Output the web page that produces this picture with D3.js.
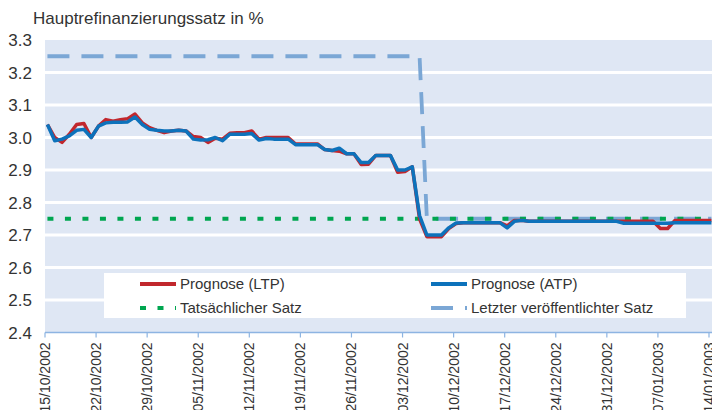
<!DOCTYPE html>
<html><head><meta charset="utf-8">
<script src="https://cdn.jsdelivr.net/npm/d3@7"></script>
<style>body{margin:0;background:#fff;}svg{display:block;font-family:"Liberation Sans",Arial,sans-serif;}</style>
</head><body>
<svg id="c" width="712" height="410"></svg>
<script>
const startDate = "2002-10-15";
const tickDates = ["2002-10-15","2002-10-22","2002-10-29","2002-11-05","2002-11-12","2002-11-19","2002-11-26","2002-12-03","2002-12-10","2002-12-17","2002-12-24","2002-12-31","2003-01-07","2003-01-14"];
const yTicks = [2.4,2.5,2.6,2.7,2.8,2.9,3.0,3.1,3.2,3.3];
const ltp = [3.04,3.00,2.985,3.01,3.04,3.043,3.00,3.035,3.055,3.05,3.055,3.058,3.072,3.045,3.03,3.022,3.015,3.02,3.022,3.02,
 3.003,3.0,2.985,2.998,2.995,3.013,3.015,3.015,3.02,2.995,3.0,3.0,3.0,3.0,2.98,2.98,2.98,2.98,2.963,2.96,
 2.958,2.95,2.95,2.917,2.918,2.945,2.945,2.945,2.893,2.895,2.91,2.75,2.695,2.695,2.695,2.72,2.735,2.738,2.738,2.738,
 2.738,2.738,2.738,2.728,2.745,2.745,2.742,2.742,2.742,2.742,2.742,2.742,2.742,2.742,2.742,2.742,2.742,2.742,2.742,2.742,
 2.742,2.742,2.742,2.742,2.72,2.72,2.745,2.745,2.745,2.745,2.745,2.745];
const atp = [3.04,2.99,2.995,3.005,3.022,3.025,3.0,3.035,3.045,3.047,3.047,3.048,3.063,3.04,3.025,3.022,3.02,3.02,3.022,3.02,
 2.995,2.992,2.993,3.0,2.99,3.01,3.01,3.01,3.012,2.992,2.997,2.995,2.995,2.995,2.978,2.978,2.978,2.978,2.963,2.96,
 2.967,2.95,2.95,2.923,2.923,2.945,2.945,2.945,2.9,2.9,2.91,2.76,2.7,2.7,2.7,2.722,2.737,2.738,2.738,2.738,
 2.738,2.738,2.738,2.722,2.742,2.745,2.742,2.742,2.742,2.742,2.742,2.742,2.742,2.742,2.742,2.742,2.742,2.742,2.742,2.736,
 2.736,2.736,2.736,2.736,2.736,2.736,2.738,2.738,2.738,2.738,2.738,2.738];
const actualRate = 2.75;
const lastPublished = ltp.map((d,i)=> i<=51 ? 3.25 : 2.75);
const seriesNames = ["Prognose (LTP)","Prognose (ATP)","Tatsächlicher Satz","Letzter veröffentlichter Satz"];
const title = "Hauptrefinanzierungssatz in %";

const parse = d3.utcParse("%Y-%m-%d");
const fmt = d3.utcFormat("%d/%m/%Y");
const day = 86400000;
const t0 = parse(startDate);
const dates = ltp.map((d,i)=> new Date(t0.getTime() + i*day + 8*3600000));

const L=45, R=712, T=40, B=332.5;
const svg = d3.select("#c");
const x = d3.scaleUtc().domain([t0, new Date(parse("2003-01-14").getTime()+0.4*day)]).range([L, 709+0.4*7.297]);
const y = d3.scaleLinear().domain([2.4,3.3]).range([B,T]);

svg.append("rect").attr("x",L).attr("y",T).attr("width",R-L).attr("height",B-T).attr("fill","#dfe7f4");
svg.append("g").selectAll("line").data(yTicks.filter(v=>v>2.45&&v<3.25)).join("line")
  .attr("x1",L).attr("x2",R).attr("y1",d=>y(d)).attr("y2",d=>y(d)).attr("stroke","#fff").attr("stroke-width",2.8);

// y labels
svg.append("g").selectAll("text").data(yTicks).join("text")
  .attr("x",32).attr("y",d=>y(d)).attr("dy","0.36em").attr("text-anchor","end")
  .attr("font-size",17).attr("fill","#333").text(d=>d.toFixed(1));

svg.append("text").attr("x",33).attr("y",24).attr("font-size",17).attr("fill","#333").text(title);

const line = d3.line().x((d,i)=>x(dates[i])).y(d=>y(d));
svg.append("path").datum(lastPublished).attr("d",line).attr("fill","none").attr("stroke","#7ba7d5").attr("stroke-width",3.8).attr("stroke-dasharray","22,12");
svg.append("path").datum(ltp.map(()=>actualRate)).attr("d",line).attr("fill","none").attr("stroke","#00a650").attr("stroke-width",3.8).attr("stroke-dasharray","6,11.5");
svg.append("path").datum(ltp).attr("d",line).attr("fill","none").attr("stroke","#c1272d").attr("stroke-width",3.5).attr("stroke-linejoin","round");
svg.append("path").datum(atp).attr("d",line).attr("fill","none").attr("stroke","#0d72bb").attr("stroke-width",3.5).attr("stroke-linejoin","round");

// x axis
const ticks = tickDates.map(parse);
svg.append("line").attr("x1",L).attr("x2",R).attr("y1",B).attr("y2",B).attr("stroke","#8db4e2").attr("stroke-width",1.5);
const xg = svg.append("g");
xg.selectAll("line").data(ticks).join("line").attr("x1",d=>x(d)).attr("x2",d=>x(d)).attr("y1",B).attr("y2",B+5).attr("stroke","#8db4e2").attr("stroke-width",1.2);
xg.selectAll("text").data(ticks).join("text")
  .attr("transform",d=>`translate(${x(d)+5},${B+10}) rotate(-90)`)
  .attr("text-anchor","end").attr("font-size",14).attr("fill","#333").text(d=>fmt(d));

// legend
const lg = svg.append("g");
lg.append("rect").attr("x",104).attr("y",273).attr("width",582).attr("height",45).attr("fill","#fff");
const items = [
  {name:seriesNames[0], x:140, y:284, stroke:"#c1272d", dash:null},
  {name:seriesNames[1], x:431, y:284, stroke:"#0d72bb", dash:null},
  {name:seriesNames[2], x:140, y:308, stroke:"#00a650", dash:"6,11.5"},
  {name:seriesNames[3], x:431, y:308, stroke:"#7ba7d5", dash:"22,12"}];
items.forEach(it=>{
  lg.append("line").attr("x1",it.x).attr("x2",it.x+36).attr("y1",it.y).attr("y2",it.y)
    .attr("stroke",it.stroke).attr("stroke-width",3.8).attr("stroke-dasharray",it.dash);
  lg.append("text").attr("x",it.x+40).attr("y",it.y).attr("dy","0.35em").attr("font-size",15).attr("fill","#333").text(it.name);
});
</script>
</body></html>
